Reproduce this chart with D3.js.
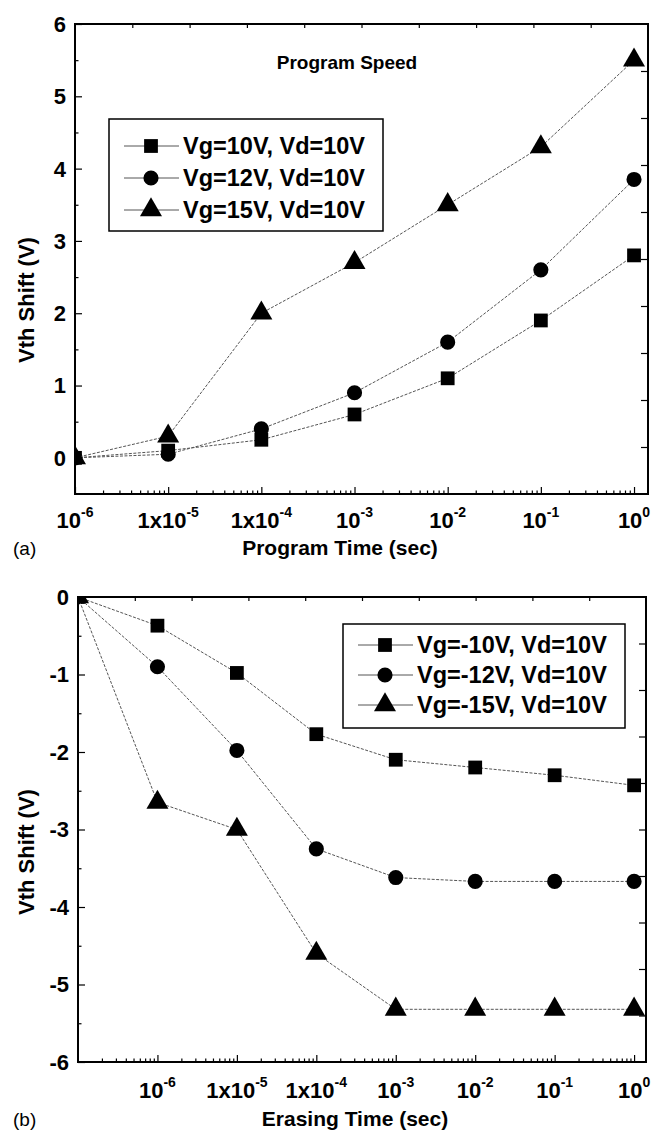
<!DOCTYPE html>
<head>
  <meta charset="utf-8">
  <title>Program / Erase speed</title>
  <script src="https://d3js.org/d3.v7.min.js"></script>
  <style>
    body { margin: 0; background: #fff; }
    text { font-family: "Liberation Sans", Arial, sans-serif; fill: #000; }
  </style>
</head>
<body>
  <div id="chart"></div>

  <script type="text/javascript">

    // (a) program: time points and Vth shift per series
    var progTimes = [1e-6, 1e-5, 1e-4, 1e-3, 1e-2, 1e-1, 1];
    var progVg10 = [0, 0.1, 0.25, 0.6, 1.1, 1.9, 2.8];
    var progVg12 = [0, 0.05, 0.4, 0.9, 1.6, 2.6, 3.85];
    var progVg15 = [0, 0.3, 2.0, 2.7, 3.5, 4.3, 5.5];
    var progNames = ['Vg=10V, Vd=10V', 'Vg=12V, Vd=10V', 'Vg=15V, Vd=10V'];

    // (b) erase
    var eraseTimes = [1e-7, 1e-6, 1e-5, 1e-4, 1e-3, 1e-2, 1e-1, 1];
    var eraseVg10 = [0, -0.37, -0.98, -1.77, -2.1, -2.2, -2.3, -2.43];
    var eraseVg12 = [0, -0.9, -1.98, -3.25, -3.62, -3.67, -3.67, -3.67];
    var eraseVg15 = [0, -2.65, -3.0, -4.6, -5.32, -5.32, -5.32, -5.32];
    var eraseNames = ['Vg=-10V, Vd=10V', 'Vg=-12V, Vd=10V', 'Vg=-15V, Vd=10V'];

    // tick labels on the time axes (base + exponent)
    var xTickValues = [1e-6, 1e-5, 1e-4, 1e-3, 1e-2, 1e-1, 1];
    var xTickBase = ['10', '1x10', '1x10', '10', '10', '10', '10'];
    var xTickExp = ['-6', '-5', '-4', '-3', '-2', '-1', '0'];

    var progYTicks = [0, 1, 2, 3, 4, 5, 6];
    var eraseYTicks = [0, -1, -2, -3, -4, -5, -6];

    var symbols = [d3.symbolSquare, d3.symbolCircle, d3.symbolTriangle];
    var symbolSizes = [190, 180, 210];

    var width = 651;
    var height = 1131;

    var svg = d3.select('#chart')
      .append('svg')
        .attr('width', width)
        .attr('height', height);

    // minor ticks 2..9 of every decade inside the domain
    function minorLogTicks(x) {
      var d = x.domain(), out = [];
      for (var e = -8; e <= 1; e++) {
        for (var k = 2; k <= 9; k++) {
          var v = k * Math.pow(10, e);
          if (v > d[0] && v < d[1]) out.push(v);
        }
      }
      return out;
    }

    function noDomain(a) { a.select('.domain').remove(); }

    function drawPanel(opt) {
      var x = opt.x, y = opt.y;
      var x0 = x.range()[0], x1 = x.range()[1];
      var y0 = y.range()[1], y1 = y.range()[0];
      var g = svg.append('g');

      g.append('clipPath').attr('id', opt.id + '-clip')
        .append('rect')
          .attr('x', x0).attr('y', y0)
          .attr('width', x1 - x0).attr('height', y1 - y0);

      // bottom: decades and minor ticks
      g.append('g')
        .attr('transform', 'translate(0,' + y1 + ')')
        .call(d3.axisBottom(x).tickValues(xTickValues).tickSize(-7).tickFormat(''))
        .call(noDomain);
      g.append('g')
        .attr('transform', 'translate(0,' + y1 + ')')
        .call(d3.axisBottom(x).tickValues(minorLogTicks(x)).tickSize(-3.5).tickFormat(''))
        .call(noDomain);

      // left: integer ticks and half-way ticks
      var halves = d3.pairs(opt.yTicks).map(function (p) { return (p[0] + p[1]) / 2; });
      g.append('g')
        .attr('transform', 'translate(' + x0 + ',0)')
        .call(d3.axisLeft(y).tickValues(opt.yTicks).tickSize(-7).tickFormat(''))
        .call(noDomain);
      g.append('g')
        .attr('transform', 'translate(' + x0 + ',0)')
        .call(d3.axisLeft(y).tickValues(halves).tickSize(-3.5).tickFormat(''))
        .call(noDomain);

      // top and right frame ticks (tenths of the frame)
      var tenX = d3.scaleLinear().domain([0, 10]).range([x0, x1]);
      var tenY = d3.scaleLinear().domain([0, 10]).range([y0, y1]);
      var tenths = d3.range(1, 10);
      g.append('g')
        .attr('transform', 'translate(0,' + y0 + ')')
        .call(d3.axisTop(tenX).tickValues(tenths).tickSize(-4).tickFormat(''))
        .call(noDomain);
      g.append('g')
        .attr('transform', 'translate(' + x1 + ',0)')
        .call(d3.axisRight(tenY).tickValues(tenths).tickSize(-7).tickFormat(''))
        .call(noDomain);

      g.selectAll('.tick line').attr('stroke', '#000').attr('stroke-width', 1.2);

      // frame
      g.append('rect')
        .attr('x', x0).attr('y', y0)
        .attr('width', x1 - x0).attr('height', y1 - y0)
        .attr('fill', 'none').attr('stroke', '#000').attr('stroke-width', 2);

      // x tick labels with superscript exponents
      var xl = g.selectAll('.xlab')
          .data(xTickValues)
          .enter()
        .append('text')
          .attr('x', function (d) { return x(d); })
          .attr('y', y1 + opt.xLabDy)
          .attr('text-anchor', 'middle')
          .attr('font-weight', 'bold')
          .attr('font-size', 22);
      xl.append('tspan').text(function (d, i) { return xTickBase[i]; });
      xl.append('tspan')
        .attr('dy', -11)
        .attr('font-size', 14)
        .text(function (d, i) { return xTickExp[i]; });

      // y tick labels
      g.selectAll('.ylab')
          .data(opt.yTicks)
          .enter()
        .append('text')
          .attr('x', x0 - 9)
          .attr('y', function (d) { return y(d); })
          .attr('dy', '0.36em')
          .attr('text-anchor', 'end')
          .attr('font-weight', 'bold')
          .attr('font-size', 22)
          .text(function (d) { return d; });

      // axis titles and panel letter
      g.append('text')
        .attr('x', opt.xTitleX).attr('y', opt.xTitleY)
        .attr('text-anchor', 'middle')
        .attr('font-weight', 'bold').attr('font-size', 21)
        .text(opt.xTitle);
      g.append('text')
        .attr('transform', 'translate(' + 34 + ',' + opt.yTitleY + ') rotate(-90)')
        .attr('text-anchor', 'middle')
        .attr('font-weight', 'bold').attr('font-size', 22)
        .text('Vth Shift (V)');
      g.append('text')
        .attr('x', 13).attr('y', opt.xTitleY)
        .attr('font-size', 19)
        .text(opt.letter);

      // series
      var line = d3.line()
        .x(function (d) { return x(d[0]); })
        .y(function (d) { return y(d[1]); });

      var plot = g.append('g').attr('clip-path', 'url(#' + opt.id + '-clip)');

      opt.series.forEach(function (vals, s) {
        var pts = opt.times.map(function (t, i) { return [t, vals[i]]; });
        plot.append('path')
          .datum(pts)
          .attr('d', line)
          .attr('fill', 'none')
          .attr('stroke', '#555')
          .attr('stroke-width', 1)
          .attr('stroke-dasharray', '3,1.5');
        plot.selectAll('.m' + s)
            .data(pts)
            .enter()
          .append('path')
            .attr('transform', function (d) { return 'translate(' + x(d[0]) + ',' + y(d[1]) + ')'; })
            .attr('d', d3.symbol().type(symbols[s]).size(symbolSizes[s]))
            .attr('fill', '#000');
      });

      // legend
      var L = opt.legend;
      g.append('rect')
        .attr('x', L.x).attr('y', L.y)
        .attr('width', L.w).attr('height', L.h)
        .attr('fill', '#fff').attr('stroke', '#000').attr('stroke-width', 1.5);
      opt.names.forEach(function (name, s) {
        var ry = L.y + L.first + s * L.step;
        g.append('line')
          .attr('x1', L.x + 15).attr('x2', L.x + 70)
          .attr('y1', ry).attr('y2', ry)
          .attr('stroke', '#555').attr('stroke-width', 1);
        g.append('path')
          .attr('transform', 'translate(' + (L.x + 42) + ',' + ry + ')')
          .attr('d', d3.symbol().type(symbols[s]).size(symbolSizes[s]))
          .attr('fill', '#000');
        g.append('text')
          .attr('x', L.x + 74).attr('y', ry)
          .attr('dy', '0.36em')
          .attr('font-weight', 'bold').attr('font-size', 23.5)
          .text(name);
      });
    }

    // (a) program speed
    var xA = d3.scaleLog().domain([1e-6, Math.pow(10, 0.15)]).range([75, 648]);
    var yA = d3.scaleLinear().domain([-0.5, 6]).range([494, 24]);
    drawPanel({
      id: 'a', x: xA, y: yA, times: progTimes,
      series: [progVg10, progVg12, progVg15], names: progNames,
      yTicks: progYTicks,
      xLabDy: 34, xTitle: 'Program Time (sec)', xTitleX: 340, xTitleY: 555,
      yTitleY: 300, letter: '(a)',
      legend: { x: 109, y: 119, w: 274, h: 112, first: 27, step: 32 }
    });

    svg.append('text')
      .attr('x', 347).attr('y', 62)
      .attr('dy', '0.36em')
      .attr('text-anchor', 'middle')
      .attr('font-weight', 'bold').attr('font-size', 19)
      .text('Program Speed');

    // (b) erasing speed
    var xB = d3.scaleLog().domain([1e-7, Math.pow(10, 0.15)]).range([78, 646]);
    var yB = d3.scaleLinear().domain([-6, 0]).range([1062, 597]);
    drawPanel({
      id: 'b', x: xB, y: yB, times: eraseTimes,
      series: [eraseVg10, eraseVg12, eraseVg15], names: eraseNames,
      yTicks: eraseYTicks,
      xLabDy: 36, xTitle: 'Erasing Time (sec)', xTitleX: 355, xTitleY: 1126,
      yTitleY: 852, letter: '(b)',
      legend: { x: 343, y: 624, w: 282, h: 104, first: 21, step: 30 }
    });
  </script>
</body>
